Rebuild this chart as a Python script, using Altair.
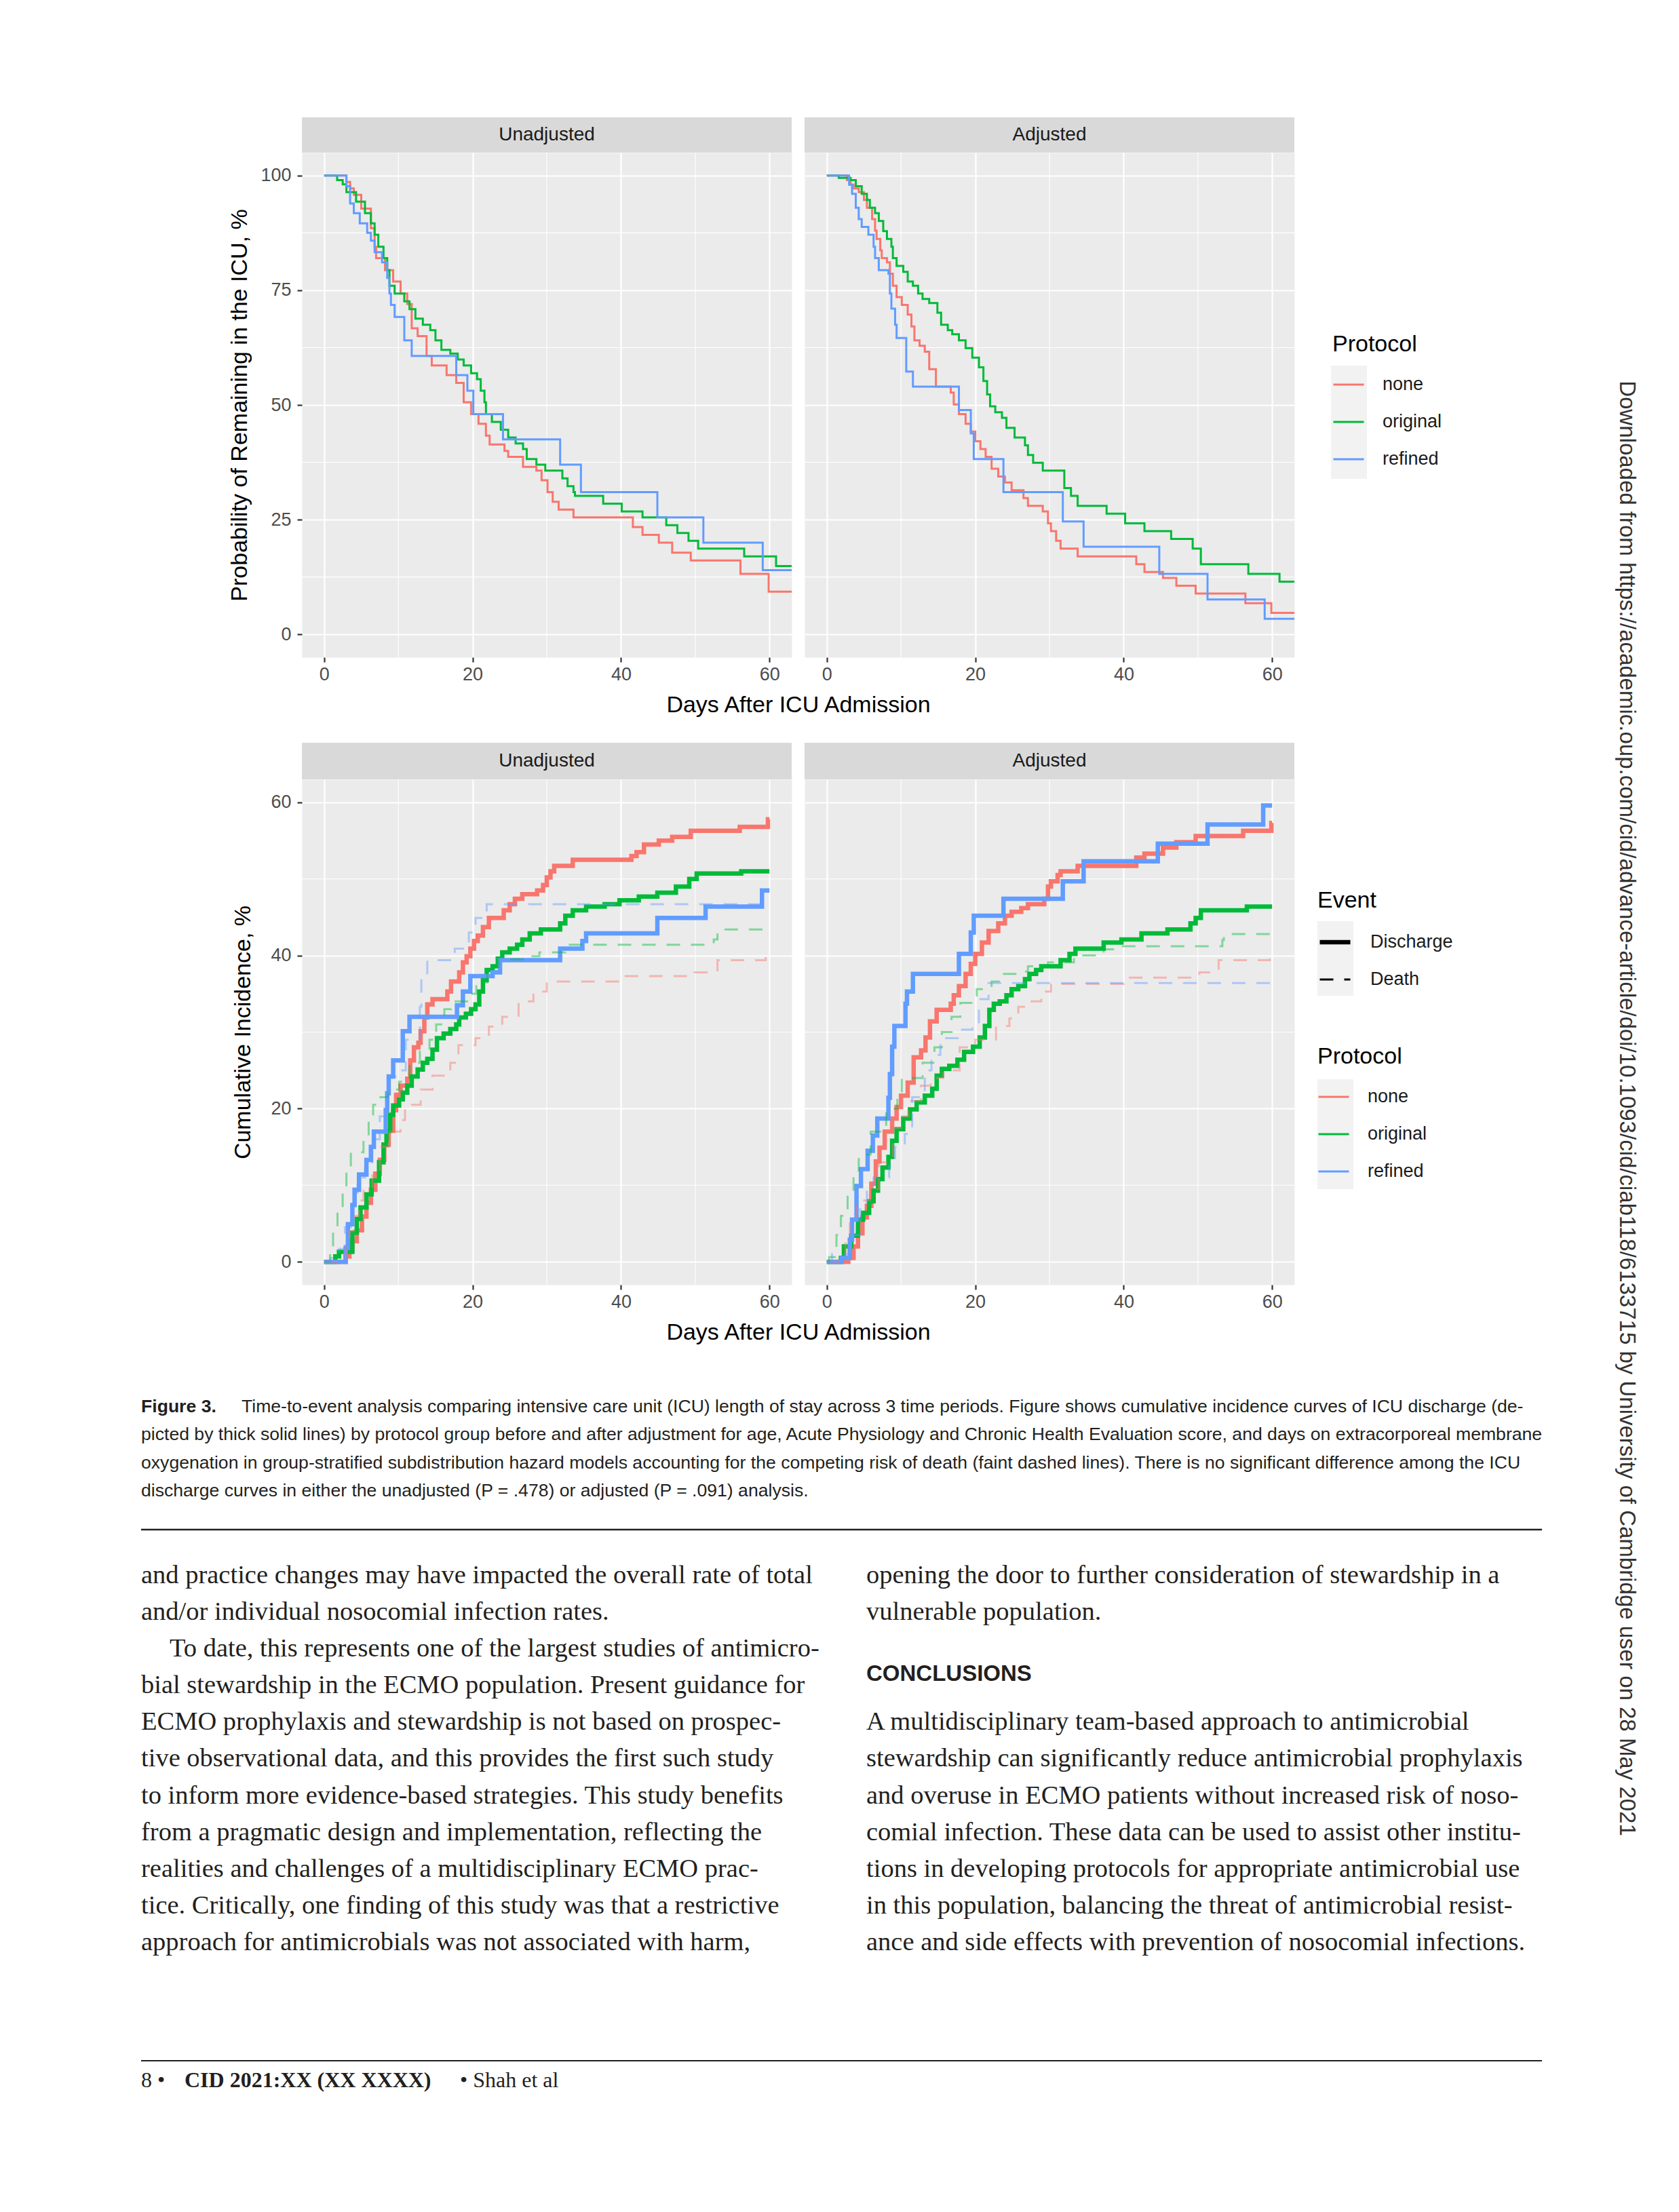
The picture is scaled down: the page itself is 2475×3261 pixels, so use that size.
import altair as alt
import pandas as pd

FONT = "Liberation Sans"
SERIF = "Liberation Serif"
NARROW = "Liberation Sans Narrow, Arial Narrow, Liberation Sans"

PANELS = ["Unadjusted", "Adjusted"]
PROTOCOLS = ["none", "original", "refined"]
PROTOCOL_COLORS = ["#F8766D", "#00BA38", "#619CFF"]
EVENTS = ["Discharge", "Death"]

X_TICKS = [0, 20, 40, 60]
X_MINOR = [10, 30, 50]
TOP_Y_TICKS = [0, 25, 50, 75, 100]
TOP_Y_MINOR = [12.5, 37.5, 62.5, 87.5]
BOT_Y_TICKS = [0, 20, 40, 60]
BOT_Y_MINOR = [10, 30, 50]

# ---- Probability of remaining in ICU (%), (day, value) step points ----
TL_NONE = [(0,100),(3.0,98.6),(3.5,97.2),(4.0,95.8),(5.0,92.8),(6.3,88.5),(6.8,84.5),(7.0,82),(8.2,79.4),(9.3,76.9),(10.3,74.3),(11.2,72),(11.8,66.7),(12.6,65),(13.8,60.7),(14.5,58.6),(16.5,56.5),(17.8,54.8),(18.8,50.6),(19.8,48),(20.8,45.9),(21.8,43.3),(22.3,41.4),(24.3,40),(24.8,38.7),(26.8,36.5),(28.6,35.7),(29.3,33.6),(30.1,31),(30.8,28.9),(31.6,27.2),(33.6,25.5),(41.6,23.4),(42.9,21.7),(45.1,20),(46.9,17.8),(49.4,16.1),(56.1,13.2),(59.9,9.3),(63,9.3)]
TL_ORIGINAL = [(0,100),(1.75,99),(2.5,98.1),(3.0,96.4),(4.3,94.3),(5.5,91.8),(6.3,89.6),(6.8,87.1),(7.3,84.5),(8.0,82),(8.5,79.4),(8.8,76),(9.5,74.3),(10.8,72.6),(11.5,70.9),(12.3,68.8),(13.3,67.5),(14.3,66.3),(15.0,64.1),(15.8,62),(17.0,61.2),(18.0,59.9),(18.8,58.6),(19.8,56.9),(20.6,55.6),(21.1,53.1),(21.6,50.6),(21.8,48),(22.6,46.3),(23.8,44.6),(24.8,42.9),(25.8,41.6),(26.8,40.4),(27.3,38.2),(28.6,37),(29.8,35.7),(32.1,34),(32.8,32.3),(33.6,31),(33.8,30.2),(37.6,28.5),(40.1,26.8),(42.9,25.5),(46.1,23.8),(47.6,22.1),(49.1,20.4),(50.4,18.7),(56.6,17),(60.9,14.9),(63,14.9)]
TL_REFINED = [(0,100),(3.0,97.7),(3.5,93.9),(4.0,91.8),(4.8,89.6),(5.8,87.5),(6.3,85.8),(6.8,83.3),(7.8,81.1),(8.5,77.7),(8.8,74.3),(9.0,71.8),(9.5,69.2),(10.8,64.1),(11.8,60.7),(17.8,56.5),(19.3,53.1),(20.1,48),(24.1,42.5),(31.8,37),(34.6,31),(44.9,25.5),(51.1,20),(59.1,14),(63,14)]

TR_NONE = [(0,100),(2.7,99),(3.2,98),(3.6,97.2),(4.3,96.4),(5.0,94.7),(5.4,93),(6.1,90.5),(6.5,88),(6.7,86.2),(7.2,83.7),(7.4,82),(8.1,81.1),(8.5,78.6),(8.9,76),(9.4,73.5),(10.1,71.8),(10.9,69.7),(11.4,67.1),(11.8,64.1),(12.5,62.9),(13.2,61.6),(13.8,57.8),(14.7,54),(16.7,52.7),(17.1,50.1),(17.8,48),(18.7,45.9),(19.4,44.2),(20.0,42.1),(20.7,40.4),(21.4,38.7),(22.2,36.1),(23.1,34.4),(24.0,33.1),(24.9,31.4),(26.5,29.7),(27.1,28),(29.1,26.8),(29.8,24.2),(30.2,22.5),(30.9,20.4),(31.5,18.7),(33.8,17),(41.7,15.3),(42.8,13.6),(45.3,12.3),(47.1,10.6),(49.7,8.9),(56.4,6.8),(59.9,4.7),(63,4.7)]
TR_ORIGINAL = [(0,100),(1.6,99.5),(3.2,99),(3.9,97.7),(4.7,96),(5.4,94.7),(5.8,93),(6.5,91.8),(7.0,90.1),(7.6,87.9),(8.1,86.2),(8.7,84.5),(8.9,82),(9.4,80.3),(10.3,79),(10.9,76.9),(11.6,76),(12.3,74.3),(12.9,73.1),(13.8,72.2),(14.9,70.1),(15.4,67.5),(16.3,66.3),(16.9,65.4),(17.8,64.1),(18.7,62.4),(19.6,60.3),(20.5,58.2),(21.1,55.2),(21.6,52.3),(22.0,49.7),(22.7,48.4),(23.6,47.2),(24.2,45),(25.3,42.9),(26.7,41.2),(27.1,39.1),(27.8,37.4),(29.1,35.7),(32.0,31.9),(32.9,30.2),(33.8,28),(37.7,26.3),(40.2,24.2),(42.8,22.5),(46.4,20.8),(49.3,18.7),(50.4,15.3),(56.8,13.2),(61.0,11.5),(63,11.5)]
TR_REFINED = [(0,100),(3.0,98),(3.4,96),(3.9,93),(4.3,90.5),(4.7,88.8),(5.6,87.1),(6.3,84.5),(6.5,82),(7.0,79.4),(8.3,78.6),(8.5,74.3),(8.7,71),(9.2,67.5),(9.4,64.6),(10.7,57.3),(11.6,54),(17.8,48.9),(19.4,43.8),(19.8,38.2),(23.8,31),(31.8,24.6),(34.6,19.1),(44.8,13.2),(51.3,7.6),(59.0,3.4),(63,3.4)]

# ---- Cumulative incidence (%), discharge (solid) and death (dashed) ----
BL_NONE_DIS = [(0,0),(2.9,0.7),(3.4,1.5),(3.8,2.7),(4.4,4.1),(5.1,5.9),(5.7,7.7),(6.3,9.4),(6.9,11.5),(7.5,13.3),(8.1,15.3),(8.7,17.1),(9.3,19.8),(9.7,21.8),(10.3,23),(11.2,23.9),(11.6,26.3),(12.1,28),(12.7,28.6),(13.0,30.1),(13.5,31.9),(13.9,33.6),(14.6,34.3),(16.6,35.3),(17.1,36.6),(18.2,37.8),(18.7,39.1),(19.2,39.9),(19.7,40.9),(20.2,41.9),(20.7,42.6),(21.4,43.7),(22.2,44.9),(24.2,45.9),(25.0,46.7),(25.7,47.4),(26.7,48),(28.7,48.5),(29.5,49.2),(30.0,50.2),(30.5,51),(31.0,51.7),(33.5,52.5),(41.4,53),(42.1,53.5),(43.1,54.5),(45.1,55),(46.9,55.5),(49.4,56.3),(56.0,56.8),(59.8,57.8),(60,57.8)]
BL_ORIGINAL_DIS = [(0,0),(1.5,0.7),(2.0,1.3),(3.8,3.8),(4.4,5.6),(4.9,7.1),(5.7,8.8),(6.4,10.6),(7.4,13),(8.0,15.3),(8.4,17.1),(8.9,19.2),(9.3,20.4),(10.1,21.2),(10.6,22.1),(11.2,23),(11.8,24.2),(12.6,25.1),(13.3,26),(13.9,26.5),(14.6,27.7),(15.2,29.2),(16.1,29.8),(17.0,30.4),(17.8,31),(18.2,31.9),(19.1,32.4),(19.8,33),(20.4,33.6),(20.9,35.3),(21.4,36.8),(21.9,38.1),(22.7,38.6),(23.4,39.6),(24.0,40.4),(25.0,40.9),(26.0,41.4),(26.7,42.1),(27.7,42.9),(29.2,43.4),(31.8,44.2),(32.5,45.2),(33.5,45.9),(35.3,46.4),(37.8,46.7),(39.8,47.2),(42.4,47.7),(44.9,48.2),(47.4,49),(49.2,50),(50.2,50.7),(56.2,51),(60,51)]
BL_REFINED_DIS = [(0,0),(2.9,1.8),(3.2,4.9),(3.8,7.4),(4.1,9.4),(4.7,11.4),(5.7,13.3),(6.3,15.0),(6.7,17.0),(8.3,19.8),(8.5,22),(8.7,24.2),(9.3,26.3),(10.6,30.1),(11.5,32.0),(17.9,33.5),(18.7,35.3),(19.7,37.3),(22.7,37.8),(23.7,39.4),(31.8,40.9),(34.8,41.9),(35.3,42.9),(44.9,44.9),(51.4,46.4),(59.0,48.5),(60,48.5)]
BL_NONE_DEATH = [(0,0),(2.0,0.5),(2.9,2.5),(3.4,4),(4.0,6),(4.7,8),(5.3,9.5),(6.5,12),(7.5,15),(8.7,17),(10.3,18.5),(10.9,20),(11.8,20.5),(13.0,22.5),(14.6,24.3),(17.0,26),(18.1,28.3),(20.4,29.2),(22.2,30.7),(24.0,32),(26.2,34),(28.2,35.3),(30.0,36.6),(40.1,37.3),(49.9,37.8),(53.0,39.4),(59.5,40.4),(60,40.4)]
BL_ORIGINAL_DEATH = [(0,0),(0.8,1.5),(1.2,4),(1.8,7),(2.5,9.5),(3.0,11.5),(3.6,14.3),(5.3,16),(6.0,18.5),(6.6,20.5),(7.6,21.5),(8.6,22.5),(10.1,23.5),(11.5,26),(12.9,27.5),(14.2,29),(15.1,31),(16.2,33),(17.1,34),(19.5,35),(20.5,36.5),(22.0,38.5),(23.5,39.5),(27.0,39.9),(29.0,40.4),(32.5,41.4),(52.5,42.1),(53.0,43.4),(60,43.4)]
BL_REFINED_DEATH = [(0,0),(0.8,0.5),(2.0,1.7),(2.8,4.5),(3.8,9),(4.5,11),(5.5,13),(6.5,16),(7.5,19),(8.6,24.2),(10.0,25),(11.0,29),(12.9,33.3),(13.1,37.1),(13.9,39.4),(17.6,40.9),(19.5,43),(20.4,44.9),(21.9,46.7),(60,46.7)]

BR_NONE_DIS = [(0,0),(2.9,0.5),(3.6,2),(4.2,3.7),(4.8,5.8),(5.4,7.3),(6.0,10.2),(6.6,13.1),(7.1,14.9),(7.8,17),(8.8,18.7),(9.4,20.2),(10.0,21.7),(10.9,23.4),(11.7,26.7),(12.7,27.6),(13.3,29.3),(13.9,31.4),(14.8,32.9),(16.7,33.7),(17.1,34.8),(17.8,36),(18.7,37.6),(19.4,38.9),(20.0,40.2),(20.9,41.7),(21.8,43.2),(23.1,44.2),(24.0,45.2),(24.9,45.7),(26.2,46.2),(27.1,46.7),(29.3,47.4),(29.8,49),(30.2,49.7),(31.1,50.5),(31.5,51),(33.8,51.7),(41.7,52.8),(42.8,53.3),(45.3,54.1),(47.1,54.8),(49.7,55.6),(56.1,56.3),(59.9,57.3),(60,57.3)]
BR_ORIGINAL_DIS = [(0,0),(1.9,0.5),(2.3,2),(3.3,3.4),(4.2,5.5),(4.9,6.4),(5.7,7.9),(6.3,9.3),(6.9,10.8),(7.5,12.3),(8.3,13.7),(8.8,15.8),(9.4,17.3),(10.3,18.7),(11.2,19.9),(12.1,20.8),(13.2,21.7),(14.2,22.6),(14.8,24.3),(15.5,25.2),(16.5,25.6),(17.6,26.4),(18.5,27.4),(19.7,28.1),(20.6,29.3),(21.3,30.8),(21.9,32.9),(22.5,33.7),(23.3,34),(24.2,34.8),(24.9,35.6),(25.8,36),(26.7,36.9),(27.3,37.6),(28.2,38.1),(28.9,38.6),(31.5,39.4),(32.7,40.2),(33.5,40.9),(37.3,41.7),(39.7,42.1),(42.4,42.9),(45.9,43.4),(49.0,44.2),(49.7,44.9),(50.4,45.9),(56.6,46.4),(60,46.4)]
BR_REFINED_DIS = [(0,0),(2.0,0.5),(3.1,2.9),(3.4,5.5),(4.0,9.9),(4.6,12.1),(5.5,14.5),(6.2,16.5),(6.8,18.7),(8.3,21.4),(8.5,24.5),(8.8,28.1),(9.1,30.8),(10.6,33.7),(10.8,35.3),(11.6,37.6),(17.8,40.2),(19.4,43),(19.8,45.2),(23.8,47.4),(31.8,49.7),(34.6,52.3),(44.6,54.6),(51.3,57.1),(58.8,59.6),(60,59.6)]
BR_NONE_DEATH = [(0,0),(1.5,0.6),(2.5,3),(3.1,5.5),(4.0,8),(5.8,9.5),(7.0,13),(8.9,17.5),(10.0,19),(11.0,21),(12.7,23),(14.0,24),(15.7,25),(17.9,28),(20.0,29),(22.8,30.8),(24.6,31.8),(25.8,33.3),(27.6,34),(28.9,35.3),(30.2,36.3),(40.0,37.1),(50.2,37.8),(52.8,39.4),(59.7,40.4),(60,40.4)]
BR_ORIGINAL_DEATH = [(0,0),(0.3,0.6),(1.3,3.5),(1.9,6),(2.8,9),(3.6,11.5),(4.3,14),(5.9,17),(8.0,20),(9.5,22),(10.1,24),(12.9,26),(14.5,28),(15.5,30),(16.8,32),(18.0,33.8),(20.2,35.6),(22.2,36.6),(23.6,37.6),(25.8,37.9),(27.1,38.6),(29.8,39.1),(33.3,40),(37.3,40.8),(39.7,41.2),(53.3,42),(53.5,42.8),(60,42.8)]
BR_REFINED_DEATH = [(0,0),(0.7,1),(2.9,3.5),(4.5,7),(5.4,10),(6.3,11),(8.4,12.5),(9.2,15),(10.5,16.7),(11.5,21.5),(13.2,25),(14.1,27),(15.3,29.2),(17.9,30.3),(19.6,30.9),(20.5,34.3),(21.8,36.4),(60,36.4)]

# ---- page text ----
CAPTION_LABEL = "Figure 3."
CAPTION_LINES = [
    "Time-to-event analysis comparing intensive care unit (ICU) length of stay across 3 time periods. Figure shows cumulative incidence curves of ICU discharge (de-",
    "picted by thick solid lines) by protocol group before and after adjustment for age, Acute Physiology and Chronic Health Evaluation score, and days on extracorporeal membrane",
    "oxygenation in group-stratified subdistribution hazard models accounting for the competing risk of death (faint dashed lines). There is no significant difference among the ICU",
    "discharge curves in either the unadjusted (P = .478) or adjusted (P = .091) analysis.",
]
BODY_LEFT = [
    "and practice changes may have impacted the overall rate of total",
    "and/or individual nosocomial infection rates.",
    "To date, this represents one of the largest studies of antimicro-",
    "bial stewardship in the ECMO population. Present guidance for",
    "ECMO prophylaxis and stewardship is not based on prospec-",
    "tive observational data, and this provides the first such study",
    "to inform more evidence-based strategies. This study benefits",
    "from a pragmatic design and implementation, reflecting the",
    "realities and challenges of a multidisciplinary ECMO prac-",
    "tice. Critically, one finding of this study was that a restrictive",
    "approach for antimicrobials was not associated with harm,",
]
BODY_RIGHT_TOP = [
    "opening the door to further consideration of stewardship in a",
    "vulnerable population.",
]
HEADING = "CONCLUSIONS"
BODY_RIGHT_BOTTOM = [
    "A multidisciplinary team-based approach to antimicrobial",
    "stewardship can significantly reduce antimicrobial prophylaxis",
    "and overuse in ECMO patients without increased risk of noso-",
    "comial infection. These data can be used to assist other institu-",
    "tions in developing protocols for appropriate antimicrobial use",
    "in this population, balancing the threat of antimicrobial resist-",
    "ance and side effects with prevention of nosocomial infections.",
]
FOOTER_PARTS = ["8  \u2022", "CID  2021:XX  (XX XXXX)", "\u2022  Shah et al"]
WATERMARK = "Downloaded from https://academic.oup.com/cid/advance-article/doi/10.1093/cid/ciab118/6133715 by University of Cambridge user on 28 May 2021"


def frame(table, event):
    rows = []
    for protocol, pts in table.items():
        for d, v in pts:
            rows.append({"protocol": protocol, "event": event, "day": d, "value": v})
    return pd.DataFrame(rows)


TOP_DATA = {
    "Unadjusted": frame({"none": TL_NONE, "original": TL_ORIGINAL, "refined": TL_REFINED}, "Discharge"),
    "Adjusted": frame({"none": TR_NONE, "original": TR_ORIGINAL, "refined": TR_REFINED}, "Discharge"),
}
BOT_DIS = {
    "Unadjusted": frame({"none": BL_NONE_DIS, "original": BL_ORIGINAL_DIS, "refined": BL_REFINED_DIS}, "Discharge"),
    "Adjusted": frame({"none": BR_NONE_DIS, "original": BR_ORIGINAL_DIS, "refined": BR_REFINED_DIS}, "Discharge"),
}
BOT_DEATH = {
    "Unadjusted": frame({"none": BL_NONE_DEATH, "original": BL_ORIGINAL_DEATH, "refined": BL_REFINED_DEATH}, "Death"),
    "Adjusted": frame({"none": BR_NONE_DEATH, "original": BR_ORIGINAL_DEATH, "refined": BR_REFINED_DEATH}, "Death"),
}

# ---- layout (pixels) ----
PANEL_W = 722
TOP_H = 744
BOT_H = 745
TOP_STRIP_H = 52
BOT_STRIP_H = 54
COL_GAP = 19
ROW_GAP = 180
TITLE_SIZE = 34
SMALL_SIZE = 27

X_SCALE = alt.Scale(domain=[-3, 63], nice=False, zero=False)
TOP_Y_SCALE = alt.Scale(domain=[-5, 105], nice=False, zero=False)
BOT_Y_SCALE = alt.Scale(domain=[-3, 63], nice=False, zero=False)
COLOR_SCALE = alt.Scale(domain=PROTOCOLS, range=PROTOCOL_COLORS)
DASH_SCALE = alt.Scale(domain=EVENTS, range=[[1, 0], [20, 16]])
WIDTH_SCALE = alt.Scale(domain=EVENTS, range=[6.5, 3])

PANEL_BG = alt.ViewBackground(fill="#EBEBEB", stroke="transparent")


def legend(title, lx, ly, **extra):
    return alt.Legend(
        title=title, orient="none", legendX=lx, legendY=ly, padding=0,
        titleFont=FONT, titleFontSize=TITLE_SIZE, titleFontWeight="normal", titleColor="black",
        titlePadding=18, labelFont=FONT, labelFontSize=SMALL_SIZE, labelColor="#1A1A1A",
        symbolType="stroke", symbolSize=2025, symbolOpacity=1, labelOffset=26,
        rowPadding=18, **extra)


TOP_LEGEND = legend("Protocol", 1519, 266, symbolStrokeWidth=3)
BOT_COLOR_LEGEND = legend("Protocol", 1497, 392, symbolStrokeWidth=3)
EVENT_LEGEND = legend("Event", 1497, 162, symbolStrokeColor="black")


def x_axis(title=None, title_x=0):
    props = dict(values=X_TICKS, grid=True, gridColor="white", gridWidth=2.2, domain=False,
                 tickColor="#333333", tickWidth=2.2, tickSize=7, labelColor="#4D4D4D",
                 labelFont=FONT, labelFontSize=SMALL_SIZE, labelPadding=5, labelFlush=False)
    if title:
        props.update(title=title, titleFont=FONT, titleFontSize=TITLE_SIZE, titleFontWeight="normal",
                     titleColor="black", titleX=title_x, titleY=80, titleAlign="center",
                     titleBaseline="alphabetic")
    else:
        props.update(title=None)
    return alt.Axis(**props)


def y_axis(values, title=None, title_x=0, height=0):
    props = dict(values=values, grid=True, gridColor="white", gridWidth=2.2, domain=False)
    if title:
        props.update(ticks=True, tickColor="#333333", tickWidth=2.2, tickSize=7,
                     labelColor="#4D4D4D", labelFont=FONT, labelFontSize=SMALL_SIZE, labelPadding=9,
                     title=title, titleFont=FONT, titleFontSize=TITLE_SIZE, titleFontWeight="normal",
                     titleColor="black", titleX=title_x, titleY=height / 2, titleAngle=270,
                     titleAlign="center", titleBaseline="middle")
    else:
        props.update(ticks=False, labels=False, title=None)
    return alt.Axis(**props)


def strip_layers(label, width, strip_h):
    box = alt.Chart(pd.DataFrame({"label": [label]})).mark_rect(color="#D9D9D9").encode(
        x=alt.value(0), x2=alt.value(width), y=alt.value(-strip_h), y2=alt.value(0))
    txt = alt.Chart(pd.DataFrame({"label": [label]})).mark_text(
        font=FONT, fontSize=28, color="#1A1A1A", align="center", baseline="middle"
    ).encode(text="label:N", x=alt.value(width / 2), y=alt.value(-strip_h / 2))
    return [box, txt]


def key_box(x0, x1, y0, y1):
    return alt.Chart(pd.DataFrame({"k": [0]})).mark_rect(color="#F2F2F2").encode(
        x=alt.value(x0), x2=alt.value(x1), y=alt.value(y0), y2=alt.value(y1))


def grid_layers(xa, ya, y_scale, y_minor):
    gx = alt.Chart(pd.DataFrame({"day": X_MINOR})).mark_rule(color="white", strokeWidth=1.1).encode(
        x=alt.X("day:Q", scale=X_SCALE, axis=xa))
    gy = alt.Chart(pd.DataFrame({"value": y_minor})).mark_rule(color="white", strokeWidth=1.1).encode(
        y=alt.Y("value:Q", scale=y_scale, axis=ya))
    return [gx, gy]


def text_layer(lines, x, y, font, size, weight="normal", line_h=54.1, color="#231F20"):
    return alt.Chart(pd.DataFrame({"t": ["\n".join(lines)]})).mark_text(
        font=font, fontSize=size, fontWeight=weight, color=color, align="left",
        baseline="alphabetic", lineBreak="\n", lineHeight=line_h
    ).encode(text="t:N", x=alt.value(x), y=alt.value(y))


def rule_layer(x0, x1, y, width):
    return alt.Chart(pd.DataFrame({"t": [0]})).mark_rule(color="#231F20", strokeWidth=width).encode(
        x=alt.value(x0), x2=alt.value(x1), y=alt.value(y))


def page_text_layers():
    # positions relative to the lower-left panel origin
    ox, oy = -237, 870
    tw = 2065
    lh = 54.1
    body_y = oy + 315
    return [
        text_layer([CAPTION_LABEL], ox, oy + 63, NARROW, 26.6, "bold"),
        text_layer(CAPTION_LINES[:1], ox + 148, oy + 63, NARROW, 26.6),
        text_layer(CAPTION_LINES[1:], ox, oy + 104.3, NARROW, 26.6, line_h=41.3),
        rule_layer(ox, ox + tw, oy + 236, 2.5),
        text_layer(BODY_LEFT[:2], ox, body_y, SERIF, 38.5),
        text_layer(BODY_LEFT[2:3], ox + 42, body_y + 2 * lh, SERIF, 38.5),
        text_layer(BODY_LEFT[3:], ox, body_y + 3 * lh, SERIF, 38.5),
        text_layer(BODY_RIGHT_TOP, ox + 1069, body_y, SERIF, 38.5),
        text_layer([HEADING], ox + 1069, oy + 459, FONT, 33, "bold"),
        text_layer(BODY_RIGHT_BOTTOM, ox + 1069, body_y + 4 * lh, SERIF, 38.5),
        rule_layer(ox, ox + tw, oy + 1019, 2),
        text_layer(FOOTER_PARTS[:1], ox, oy + 1058, SERIF, 32),
        text_layer(FOOTER_PARTS[1:2], ox + 64, oy + 1058, SERIF, 32, "bold"),
        text_layer(FOOTER_PARTS[2:], ox + 470, oy + 1058, SERIF, 32),
        alt.Chart(pd.DataFrame({"t": [WATERMARK]})).mark_text(
            font=FONT, fontSize=33, color="#333333", angle=90, align="center", baseline="middle"
        ).encode(text="t:N", x=alt.value(1953), y=alt.value(485)),
    ]


def top_panel(panel, first):
    xa = x_axis("Days After ICU Admission", PANEL_W + COL_GAP / 2) if first else x_axis()
    ya = y_axis(TOP_Y_TICKS, "Probability of Remaining in the ICU, %", -92, TOP_H) if first else y_axis(TOP_Y_TICKS)
    lines = alt.Chart(TOP_DATA[panel]).mark_line(interpolate="step-after", strokeWidth=3, clip=True).encode(
        x=alt.X("day:Q", scale=X_SCALE, axis=xa),
        y=alt.Y("value:Q", scale=TOP_Y_SCALE, axis=ya),
        color=alt.Color("protocol:N", scale=COLOR_SCALE, legend=TOP_LEGEND if first else None),
    )
    layers = grid_layers(xa, ya, TOP_Y_SCALE, TOP_Y_MINOR) + [lines] + strip_layers(panel, PANEL_W, TOP_STRIP_H)
    if first:
        layers.append(key_box(1517, 1570, 314, 481))
    return alt.layer(*layers).properties(width=PANEL_W, height=TOP_H, view=PANEL_BG)


def bottom_panel(panel, first):
    xa = x_axis("Days After ICU Admission", PANEL_W + COL_GAP / 2) if first else x_axis()
    ya = y_axis(BOT_Y_TICKS, "Cumulative Incidence, %", -87, BOT_H) if first else y_axis(BOT_Y_TICKS)

    def enc(chart):
        return chart.encode(
            x=alt.X("day:Q", scale=X_SCALE, axis=xa),
            y=alt.Y("value:Q", scale=BOT_Y_SCALE, axis=ya),
            color=alt.Color("protocol:N", scale=COLOR_SCALE, legend=BOT_COLOR_LEGEND if first else None),
            strokeDash=alt.StrokeDash("event:N", scale=DASH_SCALE, legend=EVENT_LEGEND if first else None),
            strokeWidth=alt.StrokeWidth("event:N", scale=WIDTH_SCALE, legend=EVENT_LEGEND if first else None),
        )

    solid = enc(alt.Chart(BOT_DIS[panel]).mark_line(interpolate="step-after", clip=True))
    dashed = enc(alt.Chart(BOT_DEATH[panel]).mark_line(interpolate="step-after", clip=True, opacity=0.45))
    layers = grid_layers(xa, ya, BOT_Y_SCALE, BOT_Y_MINOR) + [solid, dashed] + strip_layers(panel, PANEL_W, BOT_STRIP_H)
    if first:
        layers += [key_box(1497, 1550, 209, 319), key_box(1497, 1550, 442, 604)]
        layers += page_text_layers()
    return alt.layer(*layers).properties(width=PANEL_W, height=BOT_H, view=PANEL_BG)


chart = alt.concat(
    top_panel(PANELS[0], True), top_panel(PANELS[1], False),
    bottom_panel(PANELS[0], True), bottom_panel(PANELS[1], False),
    columns=2, spacing={"row": ROW_GAP, "column": COL_GAP}, bounds="flush",
).resolve_scale(
    color="independent", strokeDash="independent", strokeWidth="independent"
).properties(
    padding={"left": 198, "top": 164, "right": 10, "bottom": 10},
    background="white",
).configure(font=FONT).configure_view(stroke="transparent")

chart.save("out.html", embed_options={"renderer": "svg", "actions": False})
